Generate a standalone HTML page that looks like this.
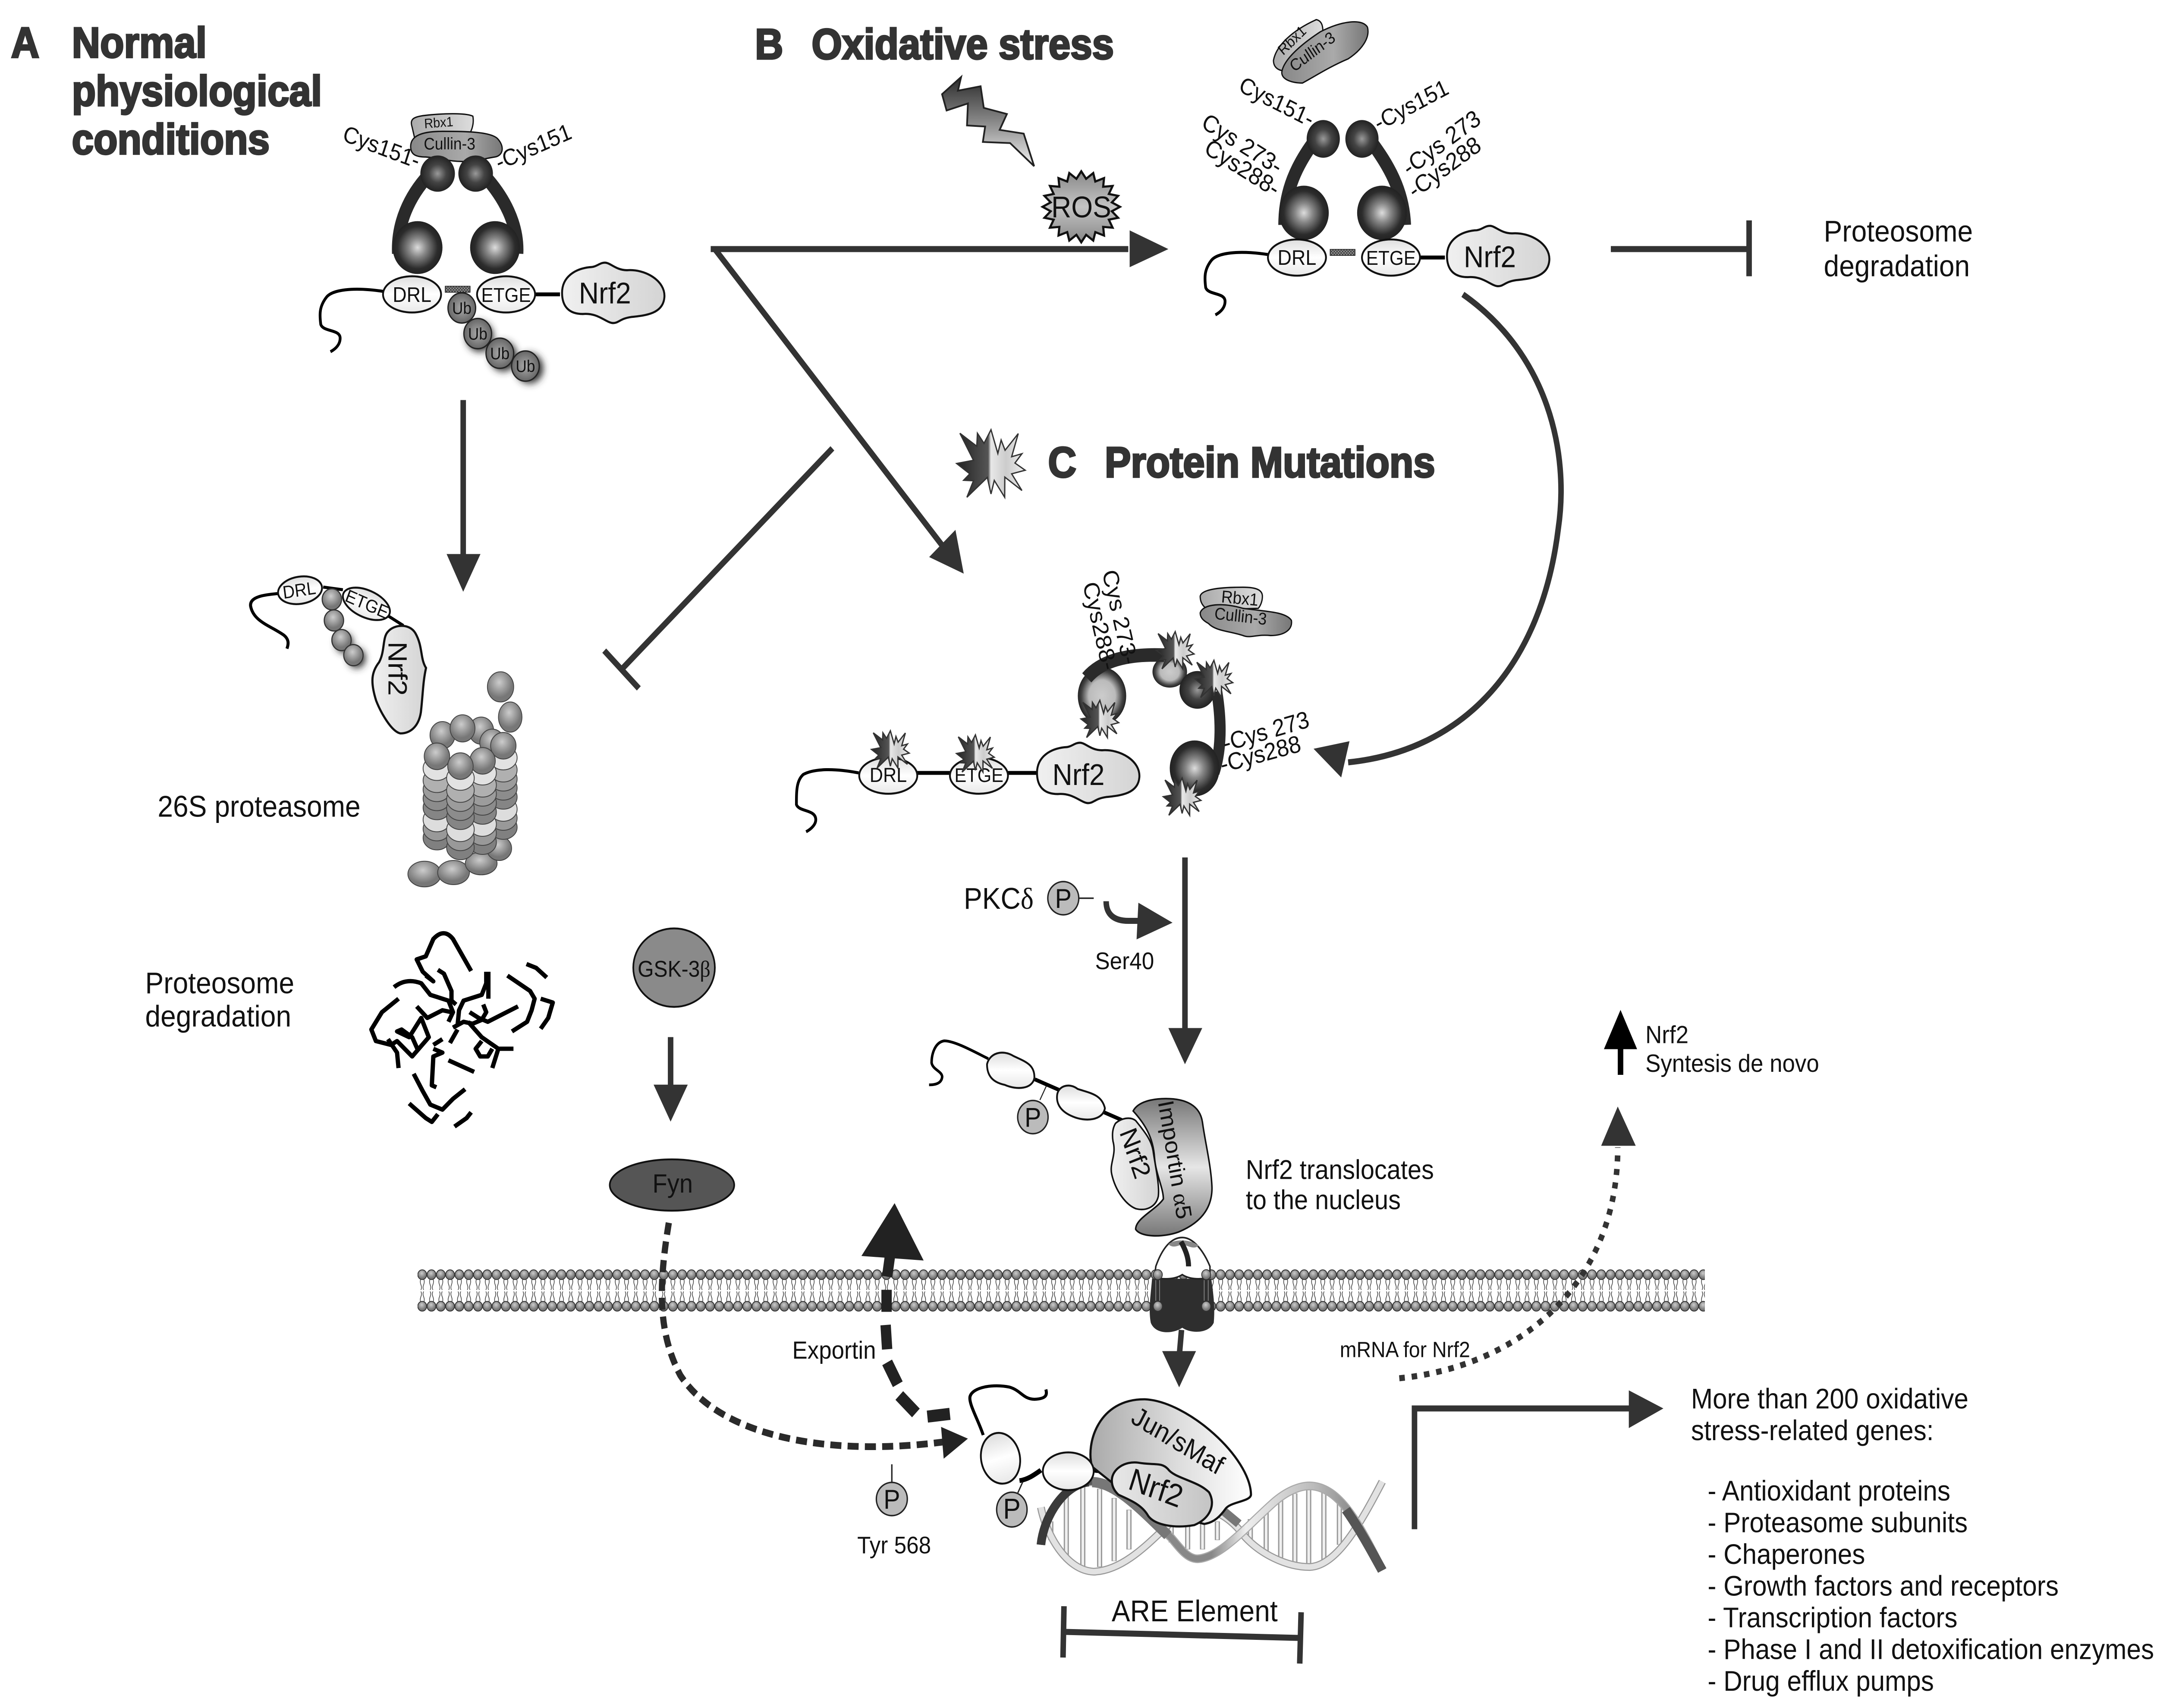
<!DOCTYPE html>
<html><head><meta charset="utf-8"><title>Nrf2 pathway</title>
<style>
html,body{margin:0;padding:0;background:#fff;width:100%;height:100%;overflow:hidden}
svg{display:block;position:absolute;left:0;top:0;width:100vw;height:100vh}
text{font-family:"Liberation Sans",sans-serif;fill:#111}
.t{font-weight:bold;font-size:28.3px;fill:#333;stroke:#333;stroke-width:1.2px}
.n{vector-effect:non-scaling-stroke}
.l{fill:none;stroke:#333;stroke-width:4}
.h{fill:#333;stroke:none}
.dom{fill:url(#dom);stroke:#111;stroke-width:1.3}
.chain{fill:none;stroke:#000;stroke-width:2}
.pc{fill:#bbb;stroke:#222;stroke-width:1}
</style></head><body>
<svg xmlns="http://www.w3.org/2000/svg" viewBox="0 0 1560 1131.43" preserveAspectRatio="none">
<defs>
<radialGradient id="ball"><stop offset="0" stop-color="#ddd"/><stop offset=".35" stop-color="#888"/><stop offset=".8" stop-color="#2c2c2c"/><stop offset="1" stop-color="#222"/></radialGradient>
<radialGradient id="cball"><stop offset="0" stop-color="#ccc"/><stop offset=".55" stop-color="#bbb"/><stop offset=".85" stop-color="#444"/><stop offset="1" stop-color="#222"/></radialGradient>
<radialGradient id="sball"><stop offset="0" stop-color="#999"/><stop offset=".5" stop-color="#444"/><stop offset="1" stop-color="#222"/></radialGradient>
<radialGradient id="ub"><stop offset="0" stop-color="#aaa"/><stop offset="1" stop-color="#666"/></radialGradient>
<radialGradient id="pb" cx=".45" cy=".35"><stop offset="0" stop-color="#ccc"/><stop offset="1" stop-color="#777"/></radialGradient>
<linearGradient id="dom" x1="0" y1="0" x2="0" y2="1"><stop offset="0" stop-color="#ddd"/><stop offset=".5" stop-color="#fff"/><stop offset="1" stop-color="#e8e8e8"/></linearGradient>
<linearGradient id="nrf" x1="0" y1="0" x2="1" y2="0"><stop offset="0" stop-color="#f0f0f0"/><stop offset="1" stop-color="#d4d4d4"/></linearGradient>
<linearGradient id="nrfb" x1="0" y1="0" x2="1" y2="0"><stop offset="0" stop-color="#e8e8e8"/><stop offset="1" stop-color="#c4c4c4"/></linearGradient>
<linearGradient id="cul" x1="0" y1="0" x2="1" y2="0"><stop offset="0" stop-color="#888"/><stop offset=".6" stop-color="#aaa"/><stop offset="1" stop-color="#777"/></linearGradient>
<linearGradient id="rbx" x1="0" y1="0" x2="1" y2="0"><stop offset="0" stop-color="#aaa"/><stop offset="1" stop-color="#ddd"/></linearGradient>
<linearGradient id="bolt" x1="0" y1="0" x2="0" y2="1"><stop offset="0" stop-color="#2a2a2a"/><stop offset=".5" stop-color="#888"/><stop offset="1" stop-color="#f2f2f2"/></linearGradient>
<linearGradient id="ros" x1="0" y1="0" x2="0" y2="1"><stop offset="0" stop-color="#888"/><stop offset=".5" stop-color="#c4c4c4"/><stop offset="1" stop-color="#888"/></linearGradient>
<linearGradient id="starg" x1="0" y1="0" x2="1" y2="0"><stop offset="0" stop-color="#222"/><stop offset=".46" stop-color="#555"/><stop offset=".5" stop-color="#e8e8e8"/><stop offset=".72" stop-color="#ccc"/><stop offset="1" stop-color="#eee"/></linearGradient>
<linearGradient id="imp" x1="0" y1="0" x2="0" y2="1"><stop offset="0" stop-color="#777"/><stop offset=".5" stop-color="#e6e6e6"/><stop offset="1" stop-color="#777"/></linearGradient>
<linearGradient id="jun" x1="0" y1="0" x2="1" y2="0"><stop offset="0" stop-color="#aaa"/><stop offset=".55" stop-color="#ddd"/><stop offset="1" stop-color="#fff"/></linearGradient>
<linearGradient id="dA" gradientUnits="userSpaceOnUse" x1="385" y1="0" x2="1420" y2="0"><stop offset="0" stop-color="#333"/><stop offset=".35" stop-color="#888"/><stop offset=".5" stop-color="#888"/><stop offset=".6" stop-color="#eee"/><stop offset=".8" stop-color="#bbb"/><stop offset="1" stop-color="#666"/></linearGradient>
<filter id="blur" x="-50%" y="-50%" width="200%" height="200%"><feGaussianBlur stdDeviation="2.4"/></filter>
<pattern id="mem" patternUnits="userSpaceOnUse" x="302" y="840" width="13.4286" height="30">
 <g fill="none" stroke="#333" stroke-width=".45">
 <path d="M2.4 7 q-.9 2 0 4 q.9 2 0 3.5"/><path d="M4.4 7 q.9 2 0 4 q-.9 2 0 3.5"/><path d="M2.4 23 q-.9 -2 0 -4 q.9 -2 0 -3.5"/><path d="M4.4 23 q.9 -2 0 -4 q-.9 -2 0 -3.5"/>
 <path d="M9.1 7 q-.9 2 0 4 q.9 2 0 3.5"/><path d="M11.1 7 q.9 2 0 4 q-.9 2 0 3.5"/><path d="M9.1 23 q-.9 -2 0 -4 q.9 -2 0 -3.5"/><path d="M11.1 23 q.9 -2 0 -4 q-.9 -2 0 -3.5"/>
 </g>
 <g fill="url(#pb)" stroke="#333" stroke-width=".6">
 <circle cx="3.36" cy="4.4" r="3.2"/><circle cx="10.07" cy="4.4" r="3.2"/><circle cx="3.36" cy="25.3" r="3.2"/><circle cx="10.07" cy="25.3" r="3.2"/>
 </g>
</pattern>
<pattern id="hatch" patternUnits="userSpaceOnUse" width="2" height="2"><rect width="2" height="2" fill="#999"/><path d="M0 2L2 0M0 0L2 2" stroke="#333" stroke-width=".4"/></pattern>
<path id="nrfshape" d="M405 194C405 183 415 178 425 177C430 177 432 174 436 174C440 174 444 179 452 179C465 178 480 186 479 197C478 208 465 209 455 210C447 211 446 214 442 214C437 214 431 207 420 208C410 208 405 203 405 194Z"/>
<path id="tail" d="M277 193C255 190 240 192 236 197C231 203 231 208 232 215C234 220 246 218 246 224C246 228 243 231 239 233"/>
<polygon id="star" class="n" stroke="#333" stroke-width="3" fill="url(#starg)" transform="translate(30,30) scale(.0952) translate(-330,-280)" points="112,65 240,155 245,65 295,135 348,40 400,205 425,112 455,183 555,67 505,228 583,207 530,272 608,322 505,347 583,463 453,370 452,510 373,393 348,487 320,372 165,510 215,395 140,392 187,347 87,275 215,253"/>
<g id="stack" stroke="#444" stroke-width=".6">
 <ellipse cx="15" cy="69" rx="10" ry="8" fill="#808080"/><ellipse cx="15" cy="63" rx="10" ry="8" fill="#999"/><ellipse cx="15" cy="57" rx="10" ry="8" fill="#ddd"/><ellipse cx="15" cy="49" rx="10" ry="8" fill="#858585"/><ellipse cx="15" cy="43" rx="10" ry="8" fill="#8c8c8c"/><ellipse cx="15" cy="37" rx="10" ry="8" fill="#9c9c9c"/><ellipse cx="15" cy="31" rx="10" ry="8" fill="#b0b0b0"/><ellipse cx="15" cy="23" rx="10" ry="8" fill="#e2e2e2"/>
 <ellipse cx="15" cy="15" rx="9.2" ry="8.8" fill="url(#pb)"/>
</g>
</defs>
<rect width="1560" height="1131.43" fill="#fff"/>

<!-- titles -->
<text class="t" x="8" y="38">A</text>
<text class="t" x="52" y="38">Normal</text>
<text class="t" x="52" y="70">physiological</text>
<text class="t" x="52" y="102">conditions</text>
<text class="t" x="546" y="39">B</text>
<text class="t" x="587" y="39">Oxidative stress</text>
<text class="t" x="758" y="316">C</text>
<text class="t" x="799" y="316">Protein Mutations</text>

<!-- Panel A -->
<path d="M298 84C296 78 300 77 312 76C325 75 338 75 342 77C343 82 341 88 338 90L300 92Z" fill="url(#rbx)" stroke="#111" stroke-width=".9"/>
<path d="M297 97C297 90 305 87 320 87C335 87 355 87 360 92C365 97 364 103 358 104C350 105 345 107 335 107C325 107 320 105 308 104C300 104 297 102 297 97Z" fill="url(#cul)" stroke="#111" stroke-width=".9"/>
<text x="307" y="85" font-size="9" transform="rotate(-4 307 85)">Rbx1</text>
<text x="306.5" y="99" font-size="11">Cullin-3</text>
<path d="M310 116C296 130 287 148 288 168" fill="none" stroke="#2a2a2a" stroke-width="9"/>
<path d="M350 116C364 130 375 148 374 168" fill="none" stroke="#2a2a2a" stroke-width="9"/>
<ellipse cx="316.5" cy="115" rx="12.5" ry="12" fill="url(#sball)"/>
<ellipse cx="344" cy="115" rx="12.5" ry="12" fill="url(#sball)"/>
<ellipse cx="302" cy="164" rx="18" ry="17.5" fill="url(#ball)"/>
<ellipse cx="358" cy="164" rx="18" ry="17.5" fill="url(#ball)"/>
<g id="chainA">
 <use href="#tail" class="chain"/>
 <path d="M385 195H405" stroke="#000" stroke-width="2.6"/>
 <rect x="322" y="189.6" width="18" height="4" fill="url(#hatch)" stroke="#222" stroke-width=".5"/>
 <ellipse class="dom" cx="298" cy="195" rx="21" ry="12"/>
 <ellipse class="dom" cx="366" cy="195" rx="21" ry="12"/>
 <use href="#nrfshape" transform="translate(1.5,0)" fill="url(#nrf)" stroke="#111" stroke-width="1.4"/>
</g>
<text text-anchor="middle" x="298" y="200" font-size="14">DRL</text>
<text text-anchor="middle" x="366" y="200" font-size="13.2">ETGE</text>
<text text-anchor="middle" x="437.5" y="201" font-size="20">Nrf2</text>
<g fill="#333" filter="url(#blur)"><circle cx="347" cy="223" r="10"/><circle cx="364" cy="236" r="10"/><circle cx="383" cy="244" r="10"/></g>
<g fill="url(#ub)" stroke="#222" stroke-width=".9">
<circle cx="334" cy="204" r="10"/><circle cx="345.5" cy="221" r="10"/><circle cx="361.5" cy="234" r="10"/><circle cx="380" cy="242.5" r="10"/></g>
<g font-size="11"><text x="334" y="208" text-anchor="middle">Ub</text><text x="345.5" y="225" text-anchor="middle">Ub</text><text x="361.5" y="238" text-anchor="middle">Ub</text><text x="380" y="246.5" text-anchor="middle">Ub</text></g>
<text font-size="15.5" transform="translate(247,93) rotate(19)">Cys151-</text>
<text font-size="15.5" transform="translate(361,113) rotate(-22)">-Cys151</text>

<line class="l" x1="335" y1="265" x2="335" y2="368"/>
<polygon class="h" points="323,367 347.5,367 335,392"/>

<!-- proteasome-bound Nrf2 -->
<g transform="translate(143,357) scale(.2187,.2551)">
 <path class="n" fill="none" stroke="#000" stroke-width="7" d="M265 142C220 145 170 150 175 175C185 215 240 225 285 250C300 260 302 270 295 285"/>
 <path class="n" fill="none" stroke="#000" stroke-width="7" d="M415 125L480 132M630 200L680 225"/>
 <path class="n" fill="url(#nrf)" stroke="#111" stroke-width="5" d="M630 240C650 222 700 218 720 245C745 280 735 310 755 335C745 370 745 400 738 450C730 490 700 505 670 505C640 500 605 450 590 420C570 370 575 345 600 320C620 290 610 255 630 240Z"/>
</g>
<ellipse class="dom" cx="217" cy="391" rx="16" ry="9" transform="rotate(-8 217 391)"/>
<ellipse class="dom" cx="265" cy="400" rx="18" ry="9" transform="rotate(22 265 400)"/>
<g fill="#333" filter="url(#blur)"><circle cx="249" cy="426" r="6.5"/><circle cx="258" cy="436" r="6.5"/></g>
<g fill="url(#pb)" stroke="#333" stroke-width=".8"><circle cx="240" cy="397" r="7"/><circle cx="241.5" cy="411" r="7"/><circle cx="247" cy="424" r="7"/><circle cx="255.6" cy="434" r="7"/></g>
<text font-size="12" text-anchor="middle" transform="translate(217,395) rotate(-8)">DRL</text>
<text font-size="12" text-anchor="middle" transform="translate(264,404) rotate(22)">ETGE</text>
<text font-size="19" transform="translate(281,425) rotate(90)">Nrf2</text>

<!-- proteasome -->
<g fill="url(#pb)" stroke="#444" stroke-width=".6">
<ellipse cx="307" cy="579" rx="12" ry="8.5"/><ellipse cx="328" cy="578" rx="11.5" ry="8"/><ellipse cx="348" cy="572" rx="11.5" ry="7.5"/><ellipse cx="361" cy="562" rx="9" ry="8"/>
<ellipse cx="362" cy="455" rx="9.5" ry="10"/><ellipse cx="369" cy="475" rx="8.5" ry="10"/>
<ellipse cx="320" cy="487" rx="9" ry="9"/><ellipse cx="348" cy="484" rx="9" ry="9"/><ellipse cx="334.5" cy="482.5" rx="9" ry="9"/><ellipse cx="356" cy="492" rx="9" ry="9"/>
</g>
<use href="#stack" transform="translate(349,479)"/>
<use href="#stack" transform="translate(301,486)"/>
<use href="#stack" transform="translate(334,489)"/>
<use href="#stack" transform="translate(318,492.5)"/>
<text x="114" y="541" font-size="20">26S proteasome</text>
<text x="105" y="658" font-size="20">Proteosome</text>
<text x="105" y="680" font-size="20">degradation</text>

<!-- degraded scribble -->
<g transform="translate(145,358) scale(.2187,.2551)" fill="none" stroke="#000" stroke-width="10" stroke-linejoin="round">
<path class="n" d="M895 1118L835 1035Q805 1005 770 1035L745 1080L715 1088L735 1120L770 1145L745 1130"/>
<path class="n" d="M785 1115L805 1125L830 1170L830 1195L845 1205"/>
<path class="n" d="M640 1160Q680 1135 730 1150L760 1180L820 1195L835 1225L820 1250"/>
<path class="n" d="M655 1190L600 1225L565 1270L580 1300L630 1310L650 1300L700 1340L755 1290L730 1240L690 1290L650 1275L665 1270L700 1290L720 1325"/>
<path class="n" d="M715 1210L750 1240L800 1220L830 1225"/>
<path class="n" d="M945 1120L945 1150L930 1180L870 1195L855 1220L850 1260"/>
<path class="n" d="M952 1120L952 1190"/>
<path class="n" d="M890 1225L920 1240L950 1250L1050 1210"/>
<path class="n" d="M935 1205L945 1225L930 1245L900 1255L870 1250L835 1265"/>
<path class="n" d="M1015 1130L1090 1170L1105 1190L1095 1220L1080 1250L1030 1275"/>
<path class="n" d="M1078 1100L1110 1110L1145 1135"/>
<path class="n" d="M1125 1190L1165 1200L1150 1240L1125 1268"/>
<path class="n" d="M885 1250L930 1290L985 1320L1035 1320M985 1320L965 1370M930 1300L910 1320L925 1340L950 1340L965 1320"/>
<path class="n" d="M825 1305L850 1270"/>
<path class="n" d="M770 1320L800 1330L770 1340L765 1415L780 1420M800 1295L770 1310"/>
<path class="n" d="M820 1350L905 1380"/>
<path class="n" d="M655 1370L650 1330L620 1295"/>
<path class="n" d="M705 1385L735 1430L760 1465L800 1478L835 1450L875 1425"/>
<path class="n" d="M690 1462L745 1500L765 1510L785 1490"/>
<path class="n" d="M840 1522L880 1500L895 1485"/>
</g>

<!-- inhibitor to proteasome -->
<line class="l" x1="602" y1="297" x2="450" y2="443"/>
<line class="l" x1="437" y1="431" x2="462" y2="456"/>

<!-- Main arrows -->
<line class="l" x1="514" y1="165" x2="816" y2="165"/>
<polygon class="h" points="817,152.6 845,165 817,177"/>
<line class="l" x1="517" y1="165" x2="682" y2="362"/>
<polygon class="h" points="697,380 672,369 691,351"/>

<!-- bolt + ROS + star -->
<g transform="translate(660,0) scale(.328,.1458)">
<polygon class="n" fill="url(#bolt)" stroke="#222" stroke-width="4" points="107,350 100,412 150,392 157,490 208,518 192,590 245,607 268,755 215,650 155,645 160,575 120,570 122,470 75,502 65,428"/>
</g>
<g transform="translate(782,137) scale(28,23.5)">
<polygon class="n" fill="url(#ros)" stroke="#111" stroke-width="5" points="1,0 .79,.125 .951,.309 .713,.363 .809,.588 .566,.566 .588,.809 .363,.713 .309,.951 .125,.79 0,1 -.125,.79 -.309,.951 -.363,.713 -.588,.809 -.566,.566 -.809,.588 -.713,.363 -.951,.309 -.79,.125 -1,0 -.79,-.125 -.951,-.309 -.713,-.363 -.809,-.588 -.566,-.566 -.588,-.809 -.363,-.713 -.309,-.951 -.125,-.79 0,-1 .125,-.79 .309,-.951 .363,-.713 .588,-.809 .566,-.566 .809,-.588 .713,-.363 .951,-.309 .79,-.125"/>
</g>
<text text-anchor="middle" x="782" y="144" font-size="20">ROS</text>
<use href="#star" transform="translate(685,277.5)"/>

<!-- Panel B -->
<path d="M921 40C923 30 935 20 952 13C957 14 958 20 955 28C950 36 940 42 930 47C925 47 921 45 921 40Z" fill="url(#rbx)" stroke="#111" stroke-width=".9"/>
<path d="M927 48C928 40 940 30 955 21C970 14 985 12 989 18C991 25 985 33 975 39C962 44 952 50 942 55C935 55 927 53 927 48Z" fill="url(#cul)" stroke="#111" stroke-width=".9"/>
<text font-size="10" transform="translate(928,37) rotate(-42)">Rbx1</text>
<text font-size="11" transform="translate(936,48) rotate(-35)">Cullin-3</text>
<g transform="translate(3,1)">
<path d="M948 92C935 108 926 125 926 148" fill="none" stroke="#2a2a2a" stroke-width="9"/>
<path d="M988 92C1001 108 1012 125 1013 148" fill="none" stroke="#2a2a2a" stroke-width="9"/>
<ellipse cx="954" cy="91" rx="12" ry="12.5" fill="url(#sball)"/>
<ellipse cx="982" cy="91" rx="12" ry="12.5" fill="url(#sball)"/>
<ellipse cx="940" cy="140" rx="18" ry="18" fill="url(#ball)"/>
<ellipse cx="996.5" cy="140" rx="18" ry="18" fill="url(#ball)"/>
</g>
<use href="#chainA" transform="translate(640,-24.4)"/>
<text text-anchor="middle" x="938" y="175.5" font-size="14">DRL</text>
<text text-anchor="middle" x="1006" y="175.5" font-size="13.2">ETGE</text>
<text text-anchor="middle" x="1077.5" y="177" font-size="20">Nrf2</text>
<text font-size="15.5" transform="translate(895,60) rotate(25)">Cys151-</text>
<text font-size="15.5" transform="translate(997,87) rotate(-26)">-Cys151</text>
<text font-size="16" transform="translate(868,84) rotate(30)">Cys 273-</text>
<text font-size="16" transform="translate(870,101) rotate(30)">Cys288-</text>
<text font-size="16" transform="translate(1019,117) rotate(-34)">-Cys 273</text>
<text font-size="16" transform="translate(1023,132) rotate(-34)">-Cys288</text>

<line class="l" x1="1165" y1="165" x2="1265" y2="165"/>
<line class="l" x1="1265" y1="146" x2="1265" y2="183"/>
<text x="1319" y="160" font-size="20">Proteosome</text>
<text x="1319" y="183" font-size="20">degradation</text>

<path class="l" d="M1058 195C1120 235 1135 300 1127 350C1115 440 1060 497 975 505"/>
<polygon class="h" points="950,496 976,491 970,515"/>

<!-- Panel C -->
<g transform="translate(4,3)">
<path d="M864 392C865 387 880 386 895 386C905 386 909 388 909 392C909 396 907 399 906 400L870 401C866 399 864 396 864 392Z" fill="url(#rbx)" stroke="#111" stroke-width=".9"/>
<path d="M864 403C866 397 880 396 895 400C910 402 926 402 930 408C931 414 925 418 915 418C905 417 900 420 895 418C885 415 875 415 870 410C866 408 864 406 864 403Z" fill="url(#cul)" stroke="#111" stroke-width=".9"/>
<text font-size="11.5" transform="translate(879,396) rotate(5)">Rbx1</text>
<text font-size="11.2" transform="translate(874,407) rotate(6)">Cullin-3</text>
</g>
<ellipse cx="797" cy="461" rx="17.5" ry="19" fill="url(#cball)"/>
<ellipse cx="846" cy="445" rx="12.5" ry="10.5" fill="url(#cball)"/>
<path d="M786 449C797 437 817 433 842 434" fill="none" stroke="#2a2a2a" stroke-width="9"/>
<ellipse cx="866" cy="457" rx="13" ry="12.5" fill="url(#sball)"/>
<path d="M880 458C883 475 884 495 878 512" fill="none" stroke="#2a2a2a" stroke-width="8"/>
<ellipse cx="864" cy="509" rx="18" ry="18.5" fill="url(#ball)"/>
<g transform="translate(4,2)">
<path class="chain" d="M617 510C600 507 585 507 577 511C572 515 572 522 572 531C574 536 586 534 586 541C586 544 583 547 579 549"/>
<path d="M659 510H683M725 510H746" stroke="#000" stroke-width="2.6"/>
<ellipse class="dom" cx="638.4" cy="511.8" rx="21" ry="12"/>
<ellipse class="dom" cx="704" cy="511.8" rx="21" ry="12"/>
<use href="#nrfshape" transform="translate(341,316)" fill="url(#nrf)" stroke="#111" stroke-width="1.4"/>
<text text-anchor="middle" x="638.4" y="516" font-size="13.5">DRL</text>
<text text-anchor="middle" x="704" y="516" font-size="13">ETGE</text>
<text text-anchor="middle" x="776" y="518" font-size="20">Nrf2</text>
<use href="#star" transform="translate(622.5,478.2) scale(.55)"/>
<use href="#star" transform="translate(684,480.9) scale(.55)"/>
</g>
<use href="#star" transform="translate(832.5,414.5) scale(.55)"/>
<use href="#star" transform="translate(860.5,433.5) scale(.55)"/>
<use href="#star" transform="translate(778,460) scale(.55)"/>
<use href="#star" transform="translate(837.5,511.5) scale(.55)"/>
<text font-size="16" transform="translate(797,379) rotate(76)">Cys 273-</text>
<text font-size="16" transform="translate(783,387) rotate(76)">Cys288-</text>
<text font-size="16" transform="translate(886,498) rotate(-15)">-Cys 273</text>
<text font-size="16" transform="translate(884,512) rotate(-14)">-Cys288</text>

<!-- PKC -->
<line class="l" x1="857" y1="568" x2="857" y2="684"/>
<polygon class="h" points="845,681 869.5,681 857,705"/>
<text x="697" y="602" font-size="20">PKC<tspan font-family="Liberation Serif">δ</tspan></text>
<ellipse class="pc" cx="769" cy="595" rx="11.2" ry="11"/>
<text text-anchor="middle" x="769" y="601.4" font-size="18">P</text>
<line x1="780" y1="595" x2="791" y2="595" stroke="#222" stroke-width="1"/>
<path class="l" d="M800 597C800 606 806 610 816 610L824 610"/>
<polygon class="h" points="823.3,598 848,611.2 822,622.3"/>
<text x="792" y="642" font-size="16">Ser40</text>

<!-- GSK / Fyn -->
<ellipse cx="487.5" cy="641" rx="29.5" ry="26" fill="#8a8a8a" stroke="#111" stroke-width="1.2"/>
<text text-anchor="middle" x="487.5" y="647" font-size="15">GSK-3<tspan font-family="Liberation Serif">β</tspan></text>
<line class="l" x1="485" y1="687" x2="485" y2="720"/>
<polygon class="h" points="472.7,718.5 497.4,718.5 485,743"/>
<ellipse cx="486" cy="785" rx="45" ry="17" fill="#555" stroke="#111" stroke-width="1.2"/>
<text text-anchor="middle" x="486.5" y="790" font-size="17.5" fill="#1a1a1a">Fyn</text>

<!-- Membrane -->
<rect x="302" y="840" width="931" height="30" fill="url(#mem)"/>

<!-- Translocating Nrf2 -->
<g transform="translate(661,674) scale(.1822)">
 <path class="chain" style="stroke-width:10;" d="M295 150C230 120 160 85 120 85C85 90 70 130 70 165C75 190 110 195 112 215C110 240 85 245 60 245" fill="none"/>
 <path d="M480 225L580 265M755 345L830 375" stroke="#000" stroke-width="14"/>
 <path d="M525 250L500 300" stroke="#222" stroke-width="4"/>
 <path class="dom" style="stroke-width:7" d="M290 170C300 130 350 115 395 140C440 160 480 170 478 220C470 260 410 265 360 245C310 235 290 210 290 170Z"/>
 <path class="dom" style="stroke-width:7" d="M568 285C570 250 615 235 650 260C700 275 745 280 758 330C750 375 680 380 630 360C590 345 565 320 568 285Z"/>
 <path d="M870 340C890 305 950 295 1000 295C1080 295 1135 320 1145 380C1155 450 1180 540 1183 620C1183 700 1130 750 1050 780C990 800 900 800 880 770C880 730 960 700 990 660C990 620 960 570 955 510C950 440 920 390 870 340Z" fill="url(#imp)" stroke="#111" stroke-width="6"/>
 <path d="M800 385C825 365 860 360 880 375C920 420 945 450 950 490C960 550 975 610 970 650C960 690 920 705 880 695C840 680 800 630 785 570C775 530 805 500 790 450C785 420 790 400 800 385Z" fill="url(#nrf)" stroke="#111" stroke-width="6"/>
 <path d="M945 950L1065 950L1180 950C1190 1010 1195 1060 1190 1110C1170 1150 1100 1150 1065 1128C1030 1150 960 1155 940 1110C930 1060 940 1010 945 950Z" fill="#2e2e2e"/>
 <path d="M960 905C985 840 1020 800 1065 800C1110 800 1150 850 1175 905L1175 945C1130 955 1090 950 1065 935C1040 950 1000 955 955 945Z" fill="#fff" stroke="#222" stroke-width="6"/>
 <path d="M1010 825C1030 805 1100 805 1130 830C1110 845 1090 830 1065 825C1045 830 1030 840 1010 825Z" fill="#888"/>
 <path d="M1060 815C1075 840 1090 870 1090 905" fill="none" stroke="#222" stroke-width="20"/>
 <g fill="url(#pb)" stroke="#333" stroke-width="3"><circle cx="968" cy="935" r="18"/><circle cx="1160" cy="935" r="18"/><circle cx="968" cy="1050" r="18"/><circle cx="1160" cy="1050" r="18"/></g>
 <path d="M960 955V1030M975 955V1030M1152 955V1030M1168 955V1030" stroke="#888" stroke-width="3"/>
</g>
<ellipse class="pc" cx="747" cy="740" rx="11" ry="11"/>
<text text-anchor="middle" x="747" y="746.4" font-size="18">P</text>
<text font-size="16" transform="translate(837.5,730) rotate(80)">Importin <tspan font-family="Liberation Serif">α</tspan>5</text>
<text font-size="18" transform="translate(809.5,750) rotate(70)">Nrf2</text>
<text x="901" y="781" font-size="18">Nrf2 translocates</text>
<text x="901" y="801" font-size="18">to the nucleus</text>
<line x1="854.5" y1="881" x2="853" y2="897" stroke="#333" stroke-width="4"/>
<polygon class="h" points="840.5,895 865,895 852.8,919"/>

<!-- DNA -->
<g transform="translate(661,887) scale(.2385,.1549)" fill="none">
 <g stroke="#999" stroke-width="12">
 <path class="n" d="M415 780V860M462 650V950M512 625V990M563 640V975M607 680V950M652 730V900M780 780V870M830 780V900M875 760V900M920 780V860M1020 770V860M1068 720V915M1112 685V935M1155 660V960M1197 645V965M1243 650V945M1290 700V880"/>
 </g>
 <g stroke="#f0f0f0" stroke-width="6">
 <path class="n" d="M415 782V858M462 652V948M512 627V988M563 642V973M607 682V948M652 732V898M780 782V868M830 782V898M875 762V898M920 782V858M1020 772V858M1068 722V913M1112 687V933M1155 662V958M1197 647V963M1243 652V943M1290 702V878"/>
 </g>
 <path class="n" stroke="#999" stroke-width="18" d="M385 720C400 830 460 990 545 995C640 990 720 860 790 770C870 670 960 760 1000 840C1050 920 1130 975 1200 975C1280 970 1350 800 1420 610"/>
 <path class="n" stroke="#e2e2e2" stroke-width="13" d="M385 720C400 830 460 990 545 995C640 990 720 860 790 770C870 670 960 760 1000 840C1050 920 1130 975 1200 975C1280 970 1350 800 1420 610"/>
 <path class="n" stroke="#aaa" stroke-width="20" d="M385 880C395 750 460 615 540 610C610 610 690 730 780 850C810 900 830 940 860 940C930 935 1010 800 1090 700C1130 650 1170 628 1200 628C1290 630 1350 790 1420 990"/>
 <path class="n" stroke="url(#dA)" stroke-width="15" d="M385 880C395 750 460 615 540 610C610 610 690 730 780 850C810 900 830 940 860 940C930 935 1010 800 1090 700C1130 650 1170 628 1200 628C1290 630 1350 790 1420 990"/>
 <path class="n" stroke="#555" stroke-width="22" d="M1310 730C1350 810 1385 900 1420 990"/>
 <path class="n" stroke="#3a3a3a" stroke-width="20" d="M385 880C395 750 460 620 530 612"/>
 <path class="n" stroke="#777" stroke-width="24" d="M540 612C610 612 690 730 770 840"/>
 <path class="n" stroke="#777" stroke-width="20" d="M900 690L985 790"/>
</g>

<!-- Complex on DNA -->
<g transform="translate(661,891) scale(.2385,.1549)">
 <path class="n" fill="none" stroke="#000" stroke-width="7" d="M210 385C195 320 165 250 170 220C178 180 240 165 290 180C325 195 330 230 365 232C400 230 405 215 400 190"/>
 <path class="n" fill="none" stroke="#000" stroke-width="11" d="M320 580C345 575 365 555 385 535M545 535L610 545"/>
 <path class="n" d="M330 585L315 632" stroke="#222" stroke-width="3"/>
 <path class="n" d="M540 520C520 420 560 230 700 232C830 240 1020 480 1022 640C1020 670 960 670 945 700C930 730 910 760 880 765L700 700Z" fill="url(#jun)" stroke="#111" stroke-width="5"/>
 <path class="n" d="M600 580C600 530 640 495 680 503C730 515 750 500 770 530C790 570 860 580 895 630C915 680 900 740 850 770C790 785 730 770 710 730C690 680 650 660 620 640C605 620 600 600 600 580Z" fill="url(#nrfb)" stroke="#111" stroke-width="5"/>
</g>
<ellipse class="dom" cx="723.6" cy="966" rx="14" ry="17" transform="rotate(-15 723.6 966)"/>
<ellipse class="dom" cx="772.6" cy="974.6" rx="18.4" ry="12.5"/>
<ellipse class="pc" cx="731.8" cy="1000" rx="11" ry="11.5"/>
<text text-anchor="middle" x="731.8" y="1006" font-size="19">P</text>
<text font-size="21" transform="translate(815,986) rotate(19)">Nrf2</text>
<text font-size="18" transform="translate(817,942) rotate(29)">Jun/sMaf</text>

<!-- ARE bracket -->
<g stroke="#333" stroke-width="4" fill="none">
<line x1="769.5" y1="1064" x2="768.8" y2="1098"/>
<line x1="941" y1="1068" x2="940" y2="1102"/>
<line x1="770" y1="1081" x2="939" y2="1085"/>
</g>
<text x="804" y="1074" font-size="20">ARE Element</text>

<!-- Fyn dashed -->
<path d="M483.7 810C476 853 476 883 492 911C522 953 602 965 684 955" fill="none" stroke="#2a2a2a" stroke-width="4.5" stroke-dasharray="8 4.5"/>
<polygon fill="#222" points="700,953 680.6,945.2 682.5,966.3"/>
<line x1="645" y1="970" x2="645" y2="982" stroke="#222" stroke-width="1"/>
<ellipse class="pc" cx="645" cy="993" rx="11.2" ry="11"/>
<text text-anchor="middle" x="645" y="999.4" font-size="18">P</text>
<text x="620" y="1029" font-size="16">Tyr 568</text>

<!-- Exportin -->
<g stroke="#222" fill="none" transform="translate(2,4)">
<line stroke-width="8" x1="685" y1="932.6" x2="668.7" y2="934.4"/>
<line stroke-width="8" x1="660.4" y1="932" x2="648.4" y2="920.4"/>
<line stroke-width="8" x1="647.3" y1="913" x2="639.6" y2="898.5"/>
<line stroke-width="7.5" x1="639.6" y1="889.8" x2="638.5" y2="873.7"/>
<line stroke-width="7.5" x1="639.2" y1="865" x2="639.2" y2="850.4"/>
<line stroke-width="7.5" x1="639.6" y1="841.7" x2="641.8" y2="827"/>
</g>
<polygon fill="#222" points="647,797 623,832 668,835"/>
<text x="573" y="900" font-size="16.5">Exportin</text>

<!-- right side -->
<line x1="1172" y1="693" x2="1172" y2="712" stroke="#000" stroke-width="4"/>
<polygon fill="#000" points="1172,669 1160,695 1184,695"/>
<text x="1190" y="691" font-size="16.5">Nrf2</text>
<text x="1190" y="710" font-size="16.5">Syntesis de novo</text>
<text x="969" y="899" font-size="14.5">mRNA for Nrf2</text>
<path d="M1012 913C1100 905 1170 850 1170 760" fill="none" stroke="#333" stroke-width="4" stroke-dasharray="4 5"/>
<polygon class="h" points="1170,733 1158,759 1183,759"/>
<path class="l" d="M1023 1013V933H1180"/>
<polygon class="h" points="1178,921 1203,933 1178,946"/>
<g font-size="18.8">
<text x="1223" y="933">More than 200 oxidative</text>
<text x="1223" y="954">stress-related genes:</text>
<text x="1235" y="994">- Antioxidant proteins</text>
<text x="1235" y="1015">- Proteasome subunits</text>
<text x="1235" y="1036">- Chaperones</text>
<text x="1235" y="1057">- Growth factors and receptors</text>
<text x="1235" y="1078">- Transcription factors</text>
<text x="1235" y="1099">- Phase I and II detoxification enzymes</text>
<text x="1235" y="1120">- Drug efflux pumps</text>
</g>
</svg>
</body></html>
